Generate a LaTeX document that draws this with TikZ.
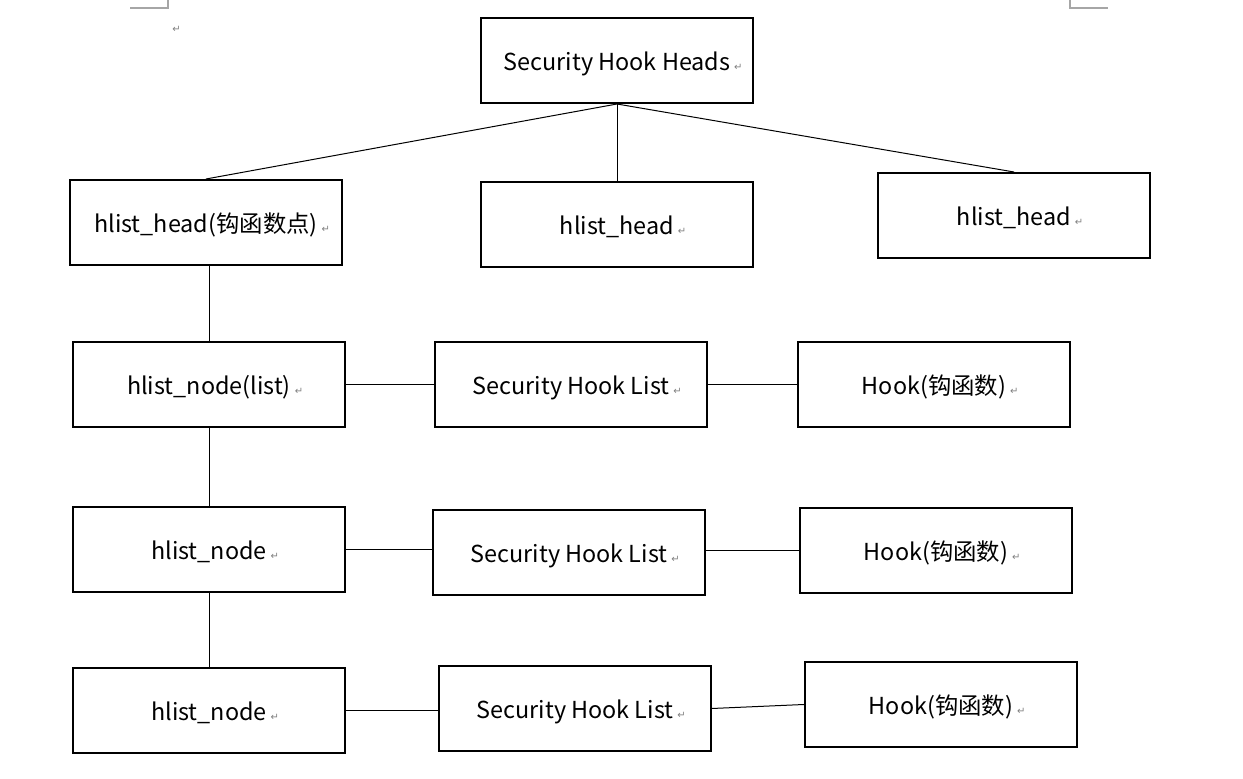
\documentclass[tikz,border=0pt]{standalone}
\usepackage{fontspec}
\setmainfont{Noto Sans CJK SC}
\newfontfamily\markfont{DejaVu Sans}
\newcommand{\pmark}{\rlap{\,{\markfont\fontsize{5pt}{5pt}\selectfont\color{gray}↵}}}
\usepackage{tikz}

\begin{document}
\begin{tikzpicture}[x=0.5pt,y=-0.5pt,
box/.style={draw,line width=1pt,rectangle,minimum width=136pt,minimum height=42.5pt,
font=\fontsize{11.7pt}{14pt}\selectfont,inner sep=0pt,text height=11pt,text depth=1pt},
link/.style={line width=0.5pt},
corner/.style={draw=gray!70,line width=0.6pt}]
\useasboundingbox (0,0) rectangle (1243,779);
\draw[corner] (130,8) -- (168,8) -- (168,0);
\draw[corner] (1070,0) -- (1070,8) -- (1108,8);
\node[inner sep=0pt] (mark) at (169,29) {\pmark};
\node [box] (heads) at (617,60.5) {Security Hook Heads\pmark};
\node [box] (headA) at (206,222.5) {hlist\_head(钩函数点)\pmark};
\node [box] (headB) at (617,224.5) {hlist\_head\pmark};
\node [box] (headC) at (1014,215.5) {hlist\_head\pmark};
\node [box] (nodeA) at (209,384.5) {hlist\_node(list)\pmark};
\node [box] (listA) at (571,384.5) {Security Hook List\pmark};
\node [box] (hookA) at (934,384.5) {Hook(钩函数)\pmark};
\node [box] (nodeB) at (209,549.5) {hlist\_node\pmark};
\node [box] (listB) at (569,552.5) {Security Hook List\pmark};
\node [box] (hookB) at (936,550.5) {Hook(钩函数)\pmark};
\node [box] (nodeC) at (209,710.5) {hlist\_node\pmark};
\node [box] (listC) at (575,708.5) {Security Hook List\pmark};
\node [box] (hookC) at (941,704.5) {Hook(钩函数)\pmark};
\draw[link] (heads.south) -- (headA.north);
\draw[link] (heads.south) -- (headB.north);
\draw[link] (heads.south) -- (headC.north);
\draw[link] (nodeA.north |- headA.south) -- (nodeA.north);
\draw[link] (nodeA.south) -- (nodeB.north);
\draw[link] (nodeB.south) -- (nodeC.north);
\draw[link] (nodeA.east) -- (listA.west);
\draw[link] (listA.east) -- (hookA.west);
\draw[link] (nodeB.east) -- (listB.west |- nodeB.east);
\draw[link] (listB.east |- hookB.west) -- (hookB.west);
\draw[link] (nodeC.east) -- (listC.west |- nodeC.east);
\draw[link] (listC.east) -- (hookC.west);
\end{tikzpicture}
\end{document}
